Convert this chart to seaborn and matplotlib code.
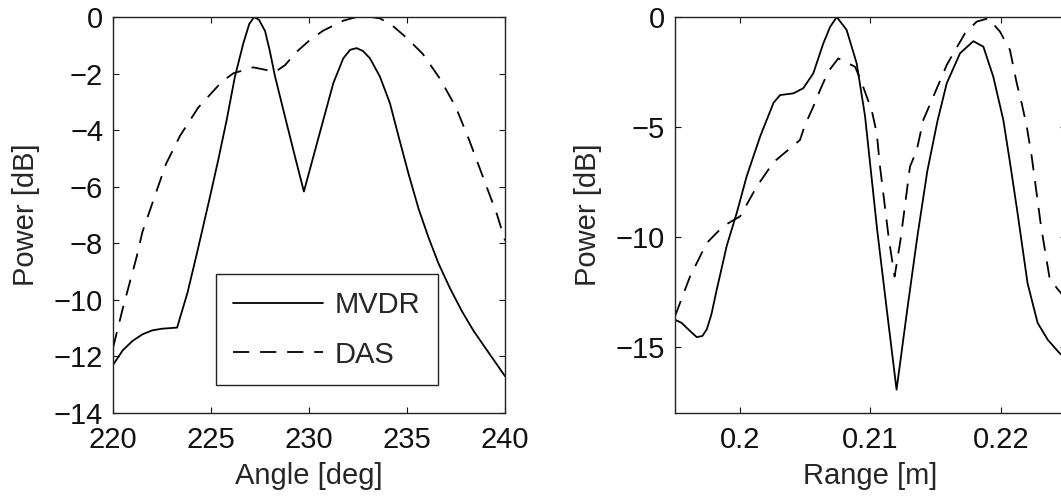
import numpy as np
import pandas as pd
import matplotlib
matplotlib.use("Agg")
import matplotlib.pyplot as plt
import seaborn as sns

# angle scan (left panel)
angle_mvdr = [220.0, 220.5, 221.0, 221.5, 222.0, 222.5, 223.27, 223.8, 224.3, 224.95,
              225.37, 225.8, 226.22, 226.65, 226.95, 227.2, 227.45, 227.76, 228.0, 228.27,
              228.86, 229.37, 229.74, 230.22, 230.73, 231.24, 231.75, 232.1, 232.43, 232.75,
              233.11, 233.62, 234.13, 234.6, 235.1, 235.6, 236.1, 236.6, 237.2, 237.8,
              238.4, 239.0, 239.5, 240.0]
power_mvdr_ang = [-12.3, -11.78, -11.45, -11.22, -11.08, -11.02, -10.98, -9.75, -8.3, -6.35,
                  -5.05, -3.64, -2.11, -0.93, -0.25, 0.0, -0.1, -0.5, -1.2, -2.11,
                  -3.76, -5.17, -6.17, -4.94, -3.64, -2.34, -1.46, -1.16, -1.1, -1.2,
                  -1.46, -2.11, -3.05, -4.3, -5.6, -6.8, -7.8, -8.7, -9.6, -10.4,
                  -11.1, -11.7, -12.2, -12.7]

angle_das = [220.0, 220.5, 221.2, 221.5, 222.0, 222.7, 223.42, 224.35, 225.55, 226.14,
             227.16, 228.01, 228.3, 228.78, 229.37, 230.05, 230.73, 231.75, 232.43, 233.0,
             233.62, 234.22, 235.0, 235.8, 236.7, 237.5, 238.2, 238.9, 239.6, 240.0]
power_das_ang = [-11.7, -10.3, -8.5, -7.6, -6.6, -5.2, -4.2, -3.2, -2.29, -1.99,
                 -1.78, -1.9, -1.93, -1.7, -1.23, -0.81, -0.48, -0.13, 0.0, 0.02,
                 -0.05, -0.28, -0.75, -1.3, -2.2, -3.2, -4.4, -5.7, -7.0, -7.9]

# range scan (right panel)
range_mvdr = [0.195, 0.1955, 0.1962, 0.19667, 0.1971, 0.19744, 0.1978, 0.1982, 0.19897, 0.19974,
              0.2005, 0.20154, 0.20256, 0.20306, 0.20408, 0.20484, 0.20561, 0.20638, 0.2069, 0.20741,
              0.20817, 0.20894, 0.20958, 0.21051, 0.21128, 0.2120, 0.21282, 0.21359, 0.21436, 0.21513,
              0.21585, 0.21687, 0.21789, 0.21866, 0.21942, 0.22019, 0.2207, 0.22128, 0.22205, 0.22282,
              0.2236, 0.22449, 0.225]
power_mvdr_rng = [-13.76, -13.9, -14.3, -14.55, -14.5, -14.2, -13.5, -12.4, -10.4, -8.9,
                  -7.24, -5.42, -3.9, -3.55, -3.47, -3.24, -2.56, -1.2, -0.45, 0.0,
                  -0.59, -2.11, -4.5, -9.67, -13.45, -16.94, -13.3, -10.0, -7.0, -4.75,
                  -3.01, -1.65, -1.1, -1.35, -2.71, -4.68, -6.6, -8.9, -12.1, -13.9,
                  -14.67, -15.27, -15.5]

range_das = [0.195, 0.19615, 0.19744, 0.19872, 0.2, 0.20128, 0.20256, 0.20306, 0.20459, 0.20498,
             0.20561, 0.20613, 0.20676, 0.20753, 0.20881, 0.2092, 0.20971, 0.21009, 0.21048, 0.21073,
             0.21141, 0.21185, 0.21231, 0.21303, 0.21355, 0.21405, 0.21482, 0.21585, 0.21636, 0.21725,
             0.21815, 0.21904, 0.21994, 0.2207, 0.22122, 0.2216, 0.22199, 0.22237, 0.22308, 0.22375,
             0.2244, 0.225]
power_das_rng = [-13.6, -11.8, -10.27, -9.5, -9.06, -7.7, -6.6, -6.35, -5.59, -4.9,
                 -4.08, -3.32, -2.48, -1.88, -2.26, -2.79, -3.62, -4.23, -5.29, -6.8,
                 -10.1, -11.8, -10.1, -6.8, -6.05, -4.68, -3.62, -2.18, -1.65, -0.74,
                 -0.21, -0.06, -0.67, -1.5, -3.01, -3.92, -4.98, -6.35, -9.5, -11.9,
                 -12.4, -12.8]

angle_ticks = [220, 225, 230, 235, 240]
angle_yticks = [0, -2, -4, -6, -8, -10, -12, -14]
range_ticks = [0.2, 0.21, 0.22]
range_yticks = [0, -5, -10, -15]

sns.set_style("ticks")
plt.rcParams['font.family'] = ['Liberation Sans', 'DejaVu Sans']
plt.rcParams['font.size'] = 21
plt.rcParams['axes.edgecolor'] = '#222222'
plt.rcParams['axes.linewidth'] = 1.0

fig = plt.figure(figsize=(10.61, 4.97), dpi=100)
W, H = 1061, 497
ax1 = fig.add_axes([113 / W, 1 - 413 / H, 392 / W, 396 / H])
ax2 = fig.add_axes([675 / W, 1 - 413 / H, 391 / W, 396 / H])


def draw(ax, x1, y1, x2, y2):
    sns.lineplot(x=x1, y=y1, ax=ax, color='k', lw=1.3, label='MVDR', sort=False)
    sns.lineplot(x=x2, y=y2, ax=ax, color='k', lw=1.3, label='DAS', sort=False)
    ax.lines[-1].set_dashes((9, 6))
    ax.tick_params(axis='both', direction='in', top=True, right=True, length=4,
                   width=0.8, labelsize=21, colors='#111111')
    ax.tick_params(axis='x', pad=9)
    ax.tick_params(axis='y', pad=7)
    for s in ax.spines.values():
        s.set_visible(True)
        s.set_color('#222222')


draw(ax1, angle_mvdr, power_mvdr_ang, angle_das, power_das_ang)
ax1.set_xlim(220, 240)
ax1.set_ylim(-14, 0)
ax1.set_xticks(angle_ticks)
ax1.set_yticks(angle_yticks)
ax1.set_xlabel('Angle [deg]', fontsize=21, labelpad=6)
ax1.set_ylabel('Power [dB]', fontsize=21, labelpad=10)
leg = ax1.legend(loc='upper left', bbox_to_anchor=(0.2628, 0.351), borderaxespad=0,
                 fontsize=21, handlelength=3.1, handletextpad=0.4, borderpad=0.58,
                 labelspacing=0.74, fancybox=False, framealpha=1, edgecolor='#222222')
leg.get_frame().set_linewidth(1.0)

draw(ax2, range_mvdr, power_mvdr_rng, range_das, power_das_rng)
ax2.set_xlim(0.195, 0.225)
ax2.set_ylim(-18, 0)
ax2.set_xticks(range_ticks)
ax2.set_xticklabels(['0.2', '0.21', '0.22'])
ax2.set_yticks(range_yticks)
ax2.set_xlabel('Range [m]', fontsize=21, labelpad=6)
ax2.set_ylabel('Power [dB]', fontsize=21, labelpad=10)
ax2.get_legend().remove()

fig.savefig('out.png', dpi=100)
